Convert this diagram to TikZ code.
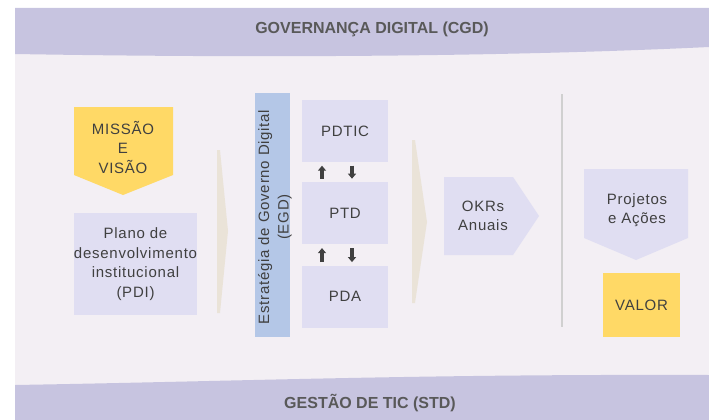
\documentclass[tikz,border=0pt]{standalone}
\usepackage{fontspec}
\setmainfont{Liberation Sans}
\newfontfamily\spacedfont{Liberation Sans}[LetterSpace=5]
\usepackage{xcolor}
\usetikzlibrary{arrows.meta,positioning}

\definecolor{bandlilac}{HTML}{C7C4E0}
\definecolor{bglight}{HTML}{F3EFF4}
\definecolor{boxlav}{HTML}{E0DEF2}
\definecolor{goldyel}{HTML}{FFD966}
\definecolor{egdblue}{HTML}{B4C7E7}
\definecolor{sandbeige}{HTML}{EAE3D8}
\definecolor{txtgray}{HTML}{404040}
\definecolor{headgray}{HTML}{595959}
\definecolor{divgray}{HTML}{D0D0D0}

\begin{document}
\begin{tikzpicture}[x=1pt, y=-1pt,
  lbl/.style={align=center, font=\spacedfont\fontsize{15}{19.5}\selectfont, text=txtgray, inner sep=0pt},
  box/.style={fill=boxlav, minimum width=86pt, minimum height=62pt, inner sep=0pt, lbl},
  bandtxt/.style={font=\fontsize{16}{18}\selectfont\bfseries, text=headgray, inner sep=0pt},
  updown/.style={-{Triangle[length=5pt,width=8pt]}, line width=3.4pt, txtgray, shorten >=3.5pt, shorten <=3.5pt},
]
\useasboundingbox (0,0) rectangle (709,420);

% background and bands
\fill[bglight] (15,8) rectangle (709,420);
\fill[bandlilac] (15,8) -- (709,8) -- (709,47) .. controls (500,57) and (250,58) .. (15,54) -- cycle;
\fill[bandlilac] (15,385) .. controls (250,381) and (420,374) .. (709,375) -- (709,420) -- (15,420) -- cycle;
\node[bandtxt] (cgd) at (372,29) {GOVERNANÇA DIGITAL (CGD)};
\node[bandtxt] (std) at (370,403) {GESTÃO DE TIC (STD)};

% left column
\fill[goldyel] (74,107) -- (173,107) -- (173,175) -- (123,195) -- (74,175) -- cycle;
\node[lbl] (missao) at (123,147) {MISSÃO\\E\\VISÃO};
\node[box, minimum width=123pt, minimum height=102pt] (pdi) at (135.5,264) {Plano de\\desenvolvimento\\institucional\\(PDI)};

\fill[sandbeige] (217,150) -- (220,150) -- (228,231) -- (220,313) -- (217,313) -- cycle;

% EGD
\node[fill=egdblue, minimum width=35pt, minimum height=244pt, inner sep=0pt] (egd) at (272.5,215) {};
\node[lbl, rotate=90] (egdtxt) at (275,217) {Estratégia de Governo Digital\\(EGD)};

\node[box] (pdtic) at (345,131) {PDTIC};
\node[box, below=20pt of pdtic] (ptd) {PTD};
\node[box, below=21pt of ptd] (pda) {PDA};

\draw[updown] ([xshift=-23pt]ptd.north) -- ([xshift=-23pt]pdtic.south);
\draw[updown] ([xshift=7pt]pdtic.south) -- ([xshift=7pt]ptd.north);
\draw[updown] ([xshift=-23pt]pda.north) -- ([xshift=-23pt]ptd.south);
\draw[updown] ([xshift=7pt]ptd.south) -- ([xshift=7pt]pda.north);

\fill[sandbeige] (412,140) -- (415,140) -- (427,222) -- (415,303) -- (412,303) -- cycle;

% OKRs
\fill[boxlav] (444,177) -- (513,177) -- (539,216) -- (513,255) -- (444,255) -- cycle;
\node[lbl] (okrs) at (483,216) {OKRs\\Anuais};

\draw[divgray, line width=2pt] (562,94) -- (562,327);

% right column
\fill[boxlav] (584,169) -- (688,169) -- (688,238) -- (636,260) -- (584,238) -- cycle;
\node[lbl] (projetos) at (637,210) {Projetos\\e Ações};
\node[box, fill=goldyel, minimum width=77pt, minimum height=64pt] (valor) at (641.5,305) {VALOR};

\end{tikzpicture}
\end{document}
